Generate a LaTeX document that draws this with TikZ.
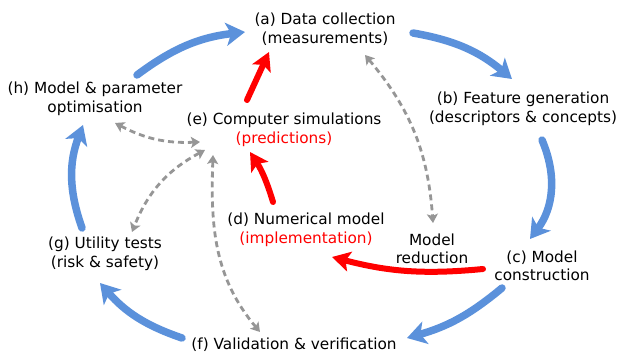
\documentclass[tikz,border=0pt]{standalone}
\usepackage{fontspec}
\setmainfont{DejaVu Sans}
\usepackage{xcolor}
\usetikzlibrary{arrows.meta}
\definecolor{flowblue}{RGB}{91,145,219}
\definecolor{linkgray}{RGB}{150,150,150}

\begin{document}
\begin{tikzpicture}[x=1pt,y=1pt,
		stage/.style={align=center,inner sep=0pt,font=\fontsize{15.3}{18.5}\selectfont},
		cycle/.style={draw=flowblue,line width=7.5pt,line cap=round,-{Stealth[length=19pt,width=23pt,inset=5pt]}},
		model/.style={draw=red,line width=6pt,line cap=round,-{Stealth[length=18pt,width=20pt,inset=4pt]}},
		link/.style={draw=linkgray,line width=2.8pt,dash pattern=on 6pt off 4pt,{Stealth[length=9pt,width=11pt,inset=2pt]}-{Stealth[length=9pt,width=11pt,inset=2pt]}}]
		\useasboundingbox (0,0) rectangle (619,354);
		% stages
		\node[stage] (a) at (325,325) {(a) Data collection\\(measurements)};
		\node[stage] (b) at (523,245) {(b) Feature generation\\(descriptors \& concepts)};
		\node[stage] (c) at (542,88) {(c) Model\\construction};
		\node[stage] (mr) at (432,105) {Model\\reduction};
		\node[stage] (d) at (306,124) {(d) Numerical model\\\textcolor{red}{(implementation)}};
		\node[stage] (e) at (284,224) {(e) Computer simulations\\\textcolor{red}{(predictions)}};
		\node[stage] (f) at (294,9) {(f) Validation \& verification};
		\node[stage] (g) at (105,100) {(g) Utility tests\\(risk \& safety)};
		\node[stage] (h) at (95,255) {(h) Model \& parameter\\optimisation};
		% outer cycle
		\draw[cycle] ([shift={(42,24)}]h.center) to[bend left=15] ([shift={(-80,-3)}]a.center);
		\draw[cycle] ([shift={(88,-4)}]a.center) to[bend left=15] ([shift={(-11,30)}]b.center);
		\draw[cycle] ([shift={(19,-31)}]b.center) to[bend left=30] ([shift={(-12,27)}]c.center);
		\draw[cycle] ([shift={(-40,-22)}]c.center) to[bend left=12] ([shift={(113,7)}]f.center);
		\draw[cycle] ([shift={(-112,7)}]f.center) to[bend left=15] ([shift={(-5,-29)}]g.center);
		\draw[cycle] ([shift={(-23,26)}]g.center) to[bend left=20] ([shift={(-12,-26)}]h.center);
		% model path
		\draw[model] ([shift={(-59,-3)}]c.center) to[bend left=10] ([shift={(26,-27)}]d.center);
		\draw[model] ([shift={(-33,28)}]d.center) to[bend right=8] ([shift={(-34,-22)}]e.center);
		\draw[model] ([shift={(-37,30)}]e.center) -- ([shift={(-56,-23)}]a.center);
		% links
		\draw[link] ([shift={(20,-24)}]h.center) to[bend right=15] ([shift={(-84,-12)}]e.center);
		\draw[link] ([shift={(-79,-20)}]e.center) to[bend right=20] ([shift={(27,22)}]g.center);
		\draw[link] ([shift={(-71,-25)}]e.center) to[out=-92,in=130] ([shift={(-34,13)}]f.center);
		\draw[link] ([shift={(40,-26)}]a.center) to[bend left=18] ([shift={(1,26)}]mr.center);
	\end{tikzpicture}
\end{document}
